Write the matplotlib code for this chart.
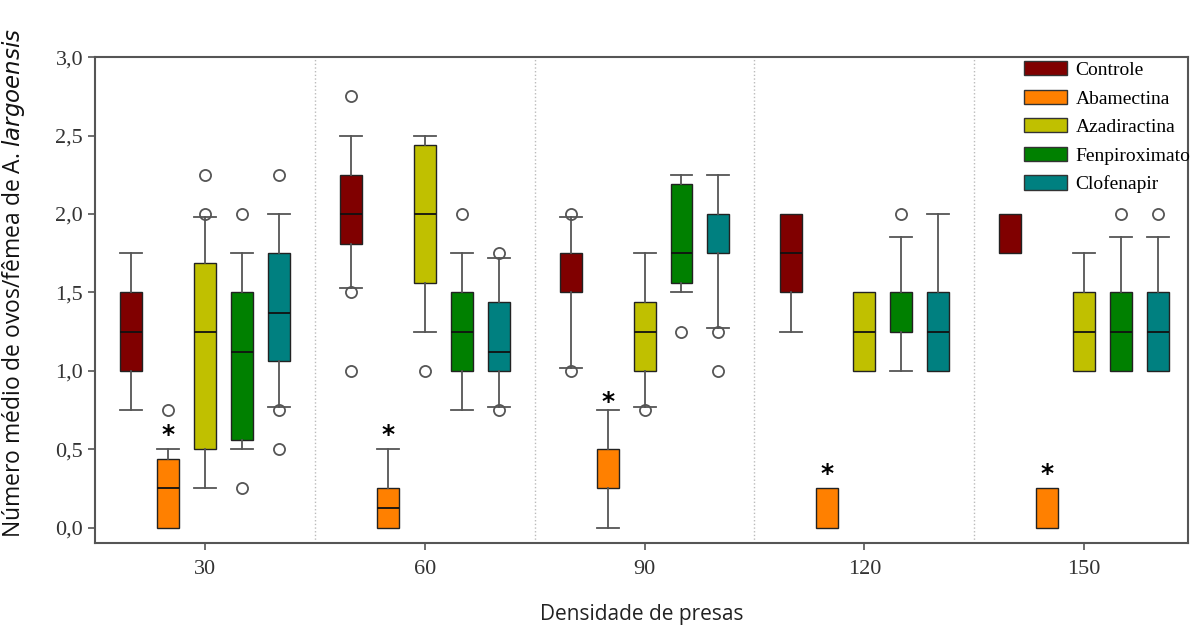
import numpy as np
import matplotlib.pyplot as plt
from matplotlib.patches import Patch

# Prey density groups and treatments
densities = ['30', '60', '90', '120', '150']
treatments = ['Controle', 'Abamectina', 'Azadiractina', 'Fenpiroximato', 'Clofenapir']
colors = ['#800000', '#ff8000', '#c0c000', '#008000', '#008080']

# Box statistics, one list per treatment, one entry per density
# (whislo, q1, med, q3, whishi)
controle = [(0.75, 1.0, 1.25, 1.5, 1.75), (1.53, 1.81, 2.0, 2.25, 2.5),
            (1.02, 1.5, 1.75, 1.75, 1.98), (1.25, 1.5, 1.75, 2.0, 2.0),
            (1.75, 1.75, 2.0, 2.0, 2.0)]
abamectina = [(0.0, 0.0, 0.25, 0.44, 0.5), (0.0, 0.0, 0.125, 0.25, 0.5),
              (0.0, 0.25, 0.25, 0.5, 0.75), (0.0, 0.0, 0.25, 0.25, 0.25),
              (0.0, 0.0, 0.25, 0.25, 0.25)]
azadiractina = [(0.25, 0.5, 1.25, 1.69, 1.98), (1.25, 1.56, 2.0, 2.44, 2.5),
                (0.77, 1.0, 1.25, 1.44, 1.75), (1.0, 1.0, 1.25, 1.5, 1.5),
                (1.0, 1.0, 1.25, 1.5, 1.75)]
fenpiroximato = [(0.5, 0.56, 1.12, 1.5, 1.75), (0.75, 1.0, 1.25, 1.5, 1.75),
                 (1.5, 1.56, 1.75, 2.19, 2.25), (1.0, 1.25, 1.5, 1.5, 1.85),
                 (1.0, 1.0, 1.25, 1.5, 1.85)]
clofenapir = [(0.77, 1.06, 1.37, 1.75, 2.0), (0.77, 1.0, 1.12, 1.44, 1.72),
              (1.27, 1.75, 1.75, 2.0, 2.25), (1.0, 1.0, 1.25, 1.5, 2.0),
              (1.0, 1.0, 1.25, 1.5, 1.85)]

# Outliers
controle_out = [[], [1.0, 1.5, 2.75], [1.0, 2.0], [], []]
abamectina_out = [[0.75], [], [], [], []]
azadiractina_out = [[2.0, 2.25], [1.0], [0.75], [], []]
fenpiroximato_out = [[0.25, 2.0], [2.0], [1.25], [2.0], [2.0]]
clofenapir_out = [[0.5, 0.75, 2.25], [0.75, 1.75], [1.0, 1.25], [], [2.0]]

# Significance stars above Abamectina
star_y = [0.59, 0.59, 0.80, 0.34, 0.34]

all_stats = [controle, abamectina, azadiractina, fenpiroximato, clofenapir]
all_out = [controle_out, abamectina_out, azadiractina_out, fenpiroximato_out, clofenapir_out]

fig, ax = plt.subplots(figsize=(12.02, 6.28), dpi=100)
fig.subplots_adjust(left=0.079, right=0.988, top=0.909, bottom=0.135)

offset = 0.168
width = 0.1
gray = '#555555'

for t, (stats, outs, col) in enumerate(zip(all_stats, all_out, colors)):
    pos = np.arange(len(densities)) + (t - 2) * offset
    bxp_stats = []
    for (lo, q1, med, q3, hi), fl in zip(stats, outs):
        bxp_stats.append(dict(whislo=lo, q1=q1, med=med, q3=q3, whishi=hi,
                              fliers=fl))
    art = ax.bxp(bxp_stats, positions=pos, widths=width, patch_artist=True,
                 capwidths=width,
                 boxprops=dict(facecolor=col, edgecolor='#222222', linewidth=1.0),
                 medianprops=dict(color='#111111', linewidth=1.3),
                 whiskerprops=dict(color=gray, linewidth=1.3),
                 capprops=dict(color=gray, linewidth=1.3),
                 flierprops=dict(marker='o', markerfacecolor='none',
                                 markeredgecolor=gray, markersize=8,
                                 markeredgewidth=1.3),
                 manage_ticks=False)
    # hide caps of zero-length whiskers and medians sitting on box edges
    for j, (lo, q1, med, q3, hi) in enumerate(stats):
        if lo == q1:
            art['caps'][2 * j].set_visible(False)
        if hi == q3:
            art['caps'][2 * j + 1].set_visible(False)
        if med in (q1, q3):
            art['medians'][j].set_visible(False)

# stars
for i, y in enumerate(star_y):
    ax.text(i - offset, y, '*', ha='center', va='center', fontsize=18,
            fontweight='bold', color='black')

# group separators
for i in range(len(densities) - 1):
    ax.axvline(i + 0.5, color='#bbbbbb', linestyle=':', linewidth=1)

ax.set_xlim(-0.5, 4.47)
ax.set_ylim(-0.1, 3.0)
ax.set_xticks(range(len(densities)))
ax.set_xticklabels(densities, fontfamily='Liberation Serif', fontsize=16)
ax.set_yticks(np.arange(0, 3.01, 0.5))
ax.set_yticklabels([f'{v:.1f}'.replace('.', ',') for v in np.arange(0, 3.01, 0.5)],
                   fontfamily='Liberation Serif', fontsize=16)
ax.tick_params(direction='out', length=5, color=gray, width=1.2,
               labelcolor='#333333')
ax.tick_params(axis='x', pad=7)
for s in ax.spines.values():
    s.set_color(gray)
    s.set_linewidth(1.5)

ax.set_xlabel('Densidade de presas', fontfamily='Open Sans', fontsize=15,
              labelpad=18, color='#222222')
ax.set_ylabel('Número médio de ovos/fêmea de A. $\\mathit{largoensis}$',
              fontfamily='Open Sans', fontsize=16.5, color='#111111')
ax.yaxis.set_label_coords(-0.062, 0.535)

handles = [Patch(facecolor=c, edgecolor='#333333', label=l)
           for c, l in zip(colors, treatments)]
ax.legend(handles=handles, loc='upper right', bbox_to_anchor=(1.006, 1.0),
          frameon=False, prop=dict(family='Liberation Serif', size=14),
          handlelength=2.2, handleheight=0.75, labelspacing=0.55,
          borderaxespad=0.0, borderpad=0.2, handletextpad=0.45)

plt.savefig('out.png', dpi=100)
